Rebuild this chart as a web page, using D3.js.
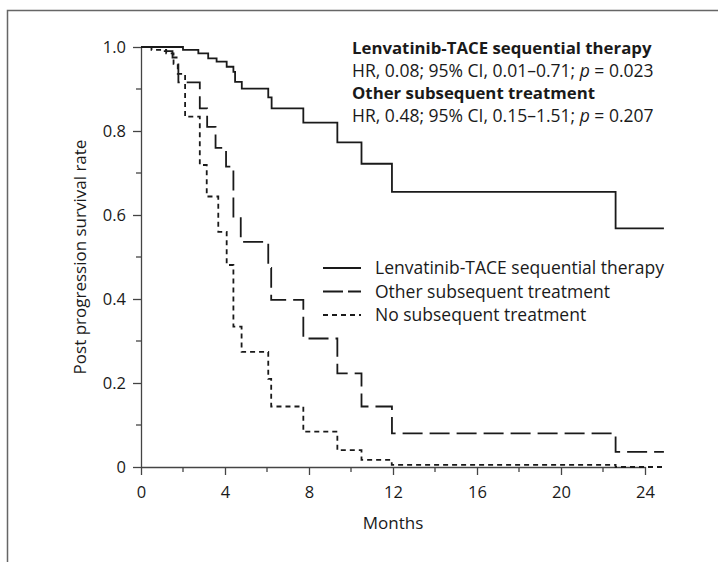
<!DOCTYPE html>
<html>
<head>
<meta charset="utf-8">
<script src="https://cdn.jsdelivr.net/npm/d3@7"></script>
<style>
  body { margin: 0; background: #fff; }
  svg { display: block; font-family: 'Open Sans', sans-serif; }
</style>
</head>
<body>
<div class="chart"></div>
<script>
// Kaplan-Meier step points (months, survival)
const lenvTimes = [0, 2.0, 2.73, 3.2, 3.6, 4.08, 4.4, 4.48, 4.8, 6.06, 6.22, 7.73, 9.35, 10.5, 11.95, 22.6, 24.9]
const lenvSurv = [1.0, 0.993, 0.985, 0.973, 0.965, 0.953, 0.941, 0.917, 0.901, 0.880, 0.854, 0.820, 0.773, 0.722, 0.655, 0.568, 0.568]

const otherTimes = [0, 1.0, 1.5, 1.78, 2.8, 3.15, 3.55, 4.05, 4.4, 4.75, 6.06, 6.2, 7.73, 9.35, 10.5, 11.95, 22.6, 24.9]
const otherSurv = [1.0, 0.99, 0.975, 0.916, 0.854, 0.81, 0.76, 0.715, 0.596, 0.536, 0.474, 0.398, 0.306, 0.223, 0.144, 0.080, 0.036, 0.036]

const noneTimes = [0, 0.5, 1.2, 1.55, 1.75, 2.1, 2.8, 3.13, 3.68, 4.08, 4.4, 4.79, 6.06, 6.2, 7.73, 9.35, 10.5, 11.94, 22.6, 24.9]
const noneSurv = [1.0, 0.993, 0.985, 0.96, 0.936, 0.834, 0.719, 0.644, 0.56, 0.481, 0.334, 0.274, 0.21, 0.144, 0.084, 0.040, 0.017, 0.005, 0, 0]

const seriesNames = ['Lenvatinib-TACE sequential therapy', 'Other subsequent treatment', 'No subsequent treatment']
const dashes = [null, '20,7', '5,4']

const xTicks = [0, 4, 8, 12, 16, 20, 24]
const xMinor = [2, 6, 10, 14, 18, 22]
const yTicks = [0, 0.2, 0.4, 0.6, 0.8, 1.0]
const yMinor = [0.1, 0.3, 0.5, 0.7, 0.9]

const annotation = [
  { text: 'Lenvatinib-TACE sequential therapy', bold: true },
  { text: 'HR, 0.08; 95% CI, 0.01–0.71; ', p: ' = 0.023' },
  { text: 'Other subsequent treatment', bold: true },
  { text: 'HR, 0.48; 95% CI, 0.15–1.51; ', p: ' = 0.207' }
]

const W = 718
const H = 562
const ink = '#1a1a1a'
const axisInk = '#444'
const fs = '17px'

const svg = d3.select('.chart')
  .append('svg')
  .attr('width', W)
  .attr('height', H)

// outer frame (top + left edges visible)
svg.append('path')
  .attr('d', `M7.5,${H + 5}V10.5H${W + 5}`)
  .attr('fill', 'none')
  .attr('stroke', '#666')
  .attr('stroke-width', 1.5)

const xScale = d3.scaleLinear().domain([0, 24]).range([141, 645])
const yScale = d3.scaleLinear().domain([0, 1]).range([467, 47])

const xAxis = d3.axisBottom(xScale)
  .tickValues(xTicks)
  .tickSize(8)
  .tickPadding(11)
  .tickSizeOuter(0)
  .tickFormat(d3.format('d'))

const yAxis = d3.axisLeft(yScale)
  .tickValues(yTicks)
  .tickSize(8)
  .tickPadding(7)
  .tickSizeOuter(0)
  .tickFormat(d => d === 0 ? '0' : d3.format('.1f')(d))

const gx = svg.append('g')
  .attr('class', 'x axis')
  .attr('transform', `translate(0,${yScale(0)})`)
  .call(xAxis)

gx.selectAll('.minor').data(xMinor).enter()
  .append('line')
  .attr('class', 'minor')
  .attr('x1', d => xScale(d)).attr('x2', d => xScale(d))
  .attr('y1', 0).attr('y2', 5)

const gy = svg.append('g')
  .attr('class', 'y axis')
  .attr('transform', `translate(${xScale(0)},0)`)
  .call(yAxis)

gy.selectAll('.minor').data(yMinor).enter()
  .append('line')
  .attr('class', 'minor')
  .attr('y1', d => yScale(d)).attr('y2', d => yScale(d))
  .attr('x1', 0).attr('x2', -5)

svg.selectAll('.axis path, .axis line')
  .attr('stroke', axisInk)
  .attr('stroke-width', 1.3)
svg.selectAll('.axis text')
  .attr('fill', ink)
  .style('font-family', "'Open Sans', sans-serif")
  .style('font-size', '16.5px')

svg.append('text')
  .attr('x', (xScale(0) + xScale(24)) / 2)
  .attr('y', 529)
  .attr('text-anchor', 'middle')
  .attr('fill', ink)
  .style('font-size', fs)
  .text('Months')

svg.append('text')
  .attr('transform', `translate(86,${(yScale(0) + yScale(1)) / 2}) rotate(-90)`)
  .attr('text-anchor', 'middle')
  .attr('fill', ink)
  .style('font-size', fs)
  .text('Post progression survival rate')

// survival curves
const line = d3.line()
  .x(d => xScale(d[0]))
  .y(d => yScale(d[1]))
  .curve(d3.curveStepAfter)

const curves = [
  d3.zip(lenvTimes, lenvSurv),
  d3.zip(otherTimes, otherSurv),
  d3.zip(noneTimes, noneSurv)
]

svg.selectAll('.curve').data(curves).enter()
  .append('path')
  .attr('class', 'curve')
  .attr('d', line)
  .attr('fill', 'none')
  .attr('stroke', ink)
  .attr('stroke-width', 1.8)
  .attr('stroke-dasharray', (d, i) => dashes[i])

// legend
const legend = svg.append('g').attr('transform', 'translate(323,268)')
const rows = legend.selectAll('.row').data(seriesNames).enter()
  .append('g')
  .attr('class', 'row')
  .attr('transform', (d, i) => `translate(0,${i * 23.5})`)
rows.append('line')
  .attr('x1', 0).attr('x2', 38)
  .attr('stroke', ink)
  .attr('stroke-width', 1.8)
  .attr('stroke-dasharray', (d, i) => i === 1 ? '20,5' : dashes[i])
rows.append('text')
  .attr('x', 52)
  .attr('dy', '0.35em')
  .attr('fill', ink)
  .style('font-size', '17.5px')
  .text(d => d)

// annotation block
const note = svg.append('g').attr('transform', 'translate(352,54)')
annotation.forEach((a, i) => {
  const t = note.append('text')
    .attr('y', i * 22.5)
    .attr('fill', ink)
    .style('font-size', a.bold ? '16.8px' : '17.5px')
    .style('font-weight', a.bold ? 700 : 400)
  t.append('tspan').text(a.text)
  if (a.p) {
    t.append('tspan').style('font-style', 'italic').text('p')
    t.append('tspan').text(a.p)
  }
})
</script>
</body>
</html>
